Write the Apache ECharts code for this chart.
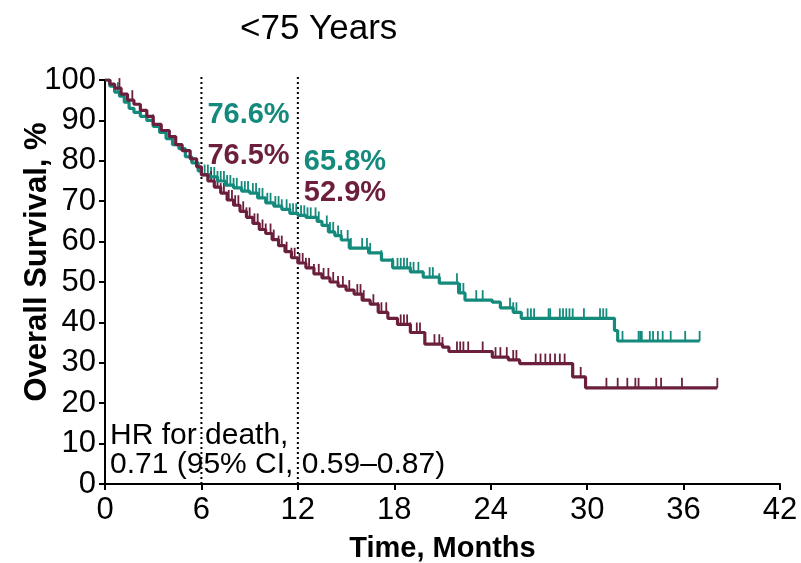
<!DOCTYPE html>
<html><head><meta charset="utf-8">
<script src="https://cdn.jsdelivr.net/npm/echarts@6/dist/echarts.min.js"></script>
<style>html,body{margin:0;padding:0;background:#fff}#c{width:801px;height:563px}</style>
</head><body><div id="c"></div>
<script>
// ---- data ----
const xTicks = [0, 6, 12, 18, 24, 30, 36, 42];
const yTicks = [0, 10, 20, 30, 40, 50, 60, 70, 80, 90, 100];

// Teal arm: event times (months) and survival after each step (%)
const tealT = [0,0.3,0.6,0.9,1.2,1.5,1.8,2.2,2.6,3.0,3.4,3.8,4.2,4.6,5.0,5.4,5.8,6.0,6.5,7.0,7.5,8.0,8.5,9.0,9.5,10.0,10.5,11.0,11.5,12.0,12.5,13.2,13.5,13.9,14.3,14.7,15.2,16.4,17.2,17.9,19.0,19.8,20.8,22.0,22.4,24.1,24.6,25.4,25.9,31.7,31.9,37.0];
const tealS = [100,98.5,97,96,94.5,93,92,91,90,88.5,87,85.5,84,83,81,79.5,77.5,76.6,76,75,74,73.3,72.5,72,70.8,69.6,68.8,68,67,66.5,66,65,64,62.4,61.5,60.4,58.4,57.2,55.4,53.5,52.5,51.2,49.7,47.3,45.5,45,43.6,42.5,41,38,35.4,35.4];
const tealCensor = [0.8,6.2,6.4,6.6,6.8,7.0,7.2,7.4,7.6,7.8,8.0,8.2,8.5,8.7,8.9,9.2,9.4,9.6,9.8,10.1,10.3,10.6,10.8,11.0,11.3,11.5,11.7,11.9,12.2,12.4,12.6,12.8,13.1,13.3,13.8,14.0,14.2,14.5,14.7,15.1,15.3,16.0,16.3,16.5,17.2,17.9,18.2,18.4,18.6,18.8,19.0,19.2,19.5,20.2,20.4,20.8,21.9,22.1,22.3,23.1,23.5,25.2,25.4,25.6,26.3,26.5,26.7,27.6,27.7,28.3,28.5,28.7,28.9,29.1,29.8,30.8,31.0,31.2,32.2,33.2,33.3,33.4,33.9,34.1,34.4,34.7,35.2,36.1,37.0];

// Maroon arm
const maroonT = [0,0.3,0.6,1.0,1.4,1.8,2.2,2.6,3.0,3.5,4.0,4.4,4.8,5.3,5.7,6.0,6.4,6.8,7.2,7.6,8.0,8.4,8.8,9.2,9.6,10.0,10.4,10.8,11.2,11.6,12.0,12.5,13.0,13.5,14.0,14.5,15.0,15.5,16.0,16.5,17.0,17.6,18.2,19.0,19.9,21.0,21.4,24.1,25.1,25.8,29.1,29.9,38.1];
const maroonS = [100,99,98,96.5,95,94,92.5,91,89,87.5,86,84,82.5,80.5,78.5,76.5,75,73.5,72,70.3,69,67.5,66,64.5,63,62,60.5,59,57.5,56,54.7,53.5,52,51,50,49,48,47,45.5,44.5,42.5,41,39.5,37.5,34.6,33.9,32.8,31.4,30.7,29.8,26.5,23.8,23.8];
const maroonCensor = [0.9,1.7,3.0,6.6,6.8,7.0,7.2,7.4,7.7,7.9,8.1,8.3,8.6,8.8,9.0,9.3,9.5,9.8,10.0,10.3,10.5,10.8,11.0,11.3,11.6,11.8,12.1,12.3,12.5,12.7,13.0,13.3,13.6,13.9,14.2,14.5,14.8,15.2,15.7,15.9,16.1,16.7,17.0,17.2,17.5,18.4,18.6,18.8,19.0,19.4,19.6,20.5,20.8,21.0,21.9,22.1,22.3,22.6,23.5,24.3,24.6,25.0,25.4,25.6,26.8,27.1,27.4,27.7,28.0,28.3,28.6,29.1,29.6,31.2,31.9,32.5,33.0,33.2,34.3,34.6,35.9,38.1];

// Landmark values
const landmarkT = [6, 12];
const tealLandmark = ['76.6%', '65.8%'];
const maroonLandmark = ['76.5%', '52.9%'];

const titleText = '<75 Years';
const hrLines = ['HR for death,', '0.71 (95% CI, 0.59\u20130.87)'];

// ---- build ----
const TEAL = '#138a7b', MAROON = '#6b1f3d';
function pairs(t, s){ return t.map((v,i)=>[v, s[i]]); }
function stepAt(t, s, x){ let y = s[0]; for (let i=0;i<t.length;i++){ if (t[i] <= x) y = s[i]; else break; } return y; }
function censorPts(ct, t, s){ return ct.map(x => [x, stepAt(t, s, x)]); }

const font = 'Liberation Sans, Arial, sans-serif';
const chart = echarts.init(document.getElementById('c'), null, {renderer:'canvas'});
const censorStyle = (c)=>({type:'scatter', symbol:'rect', symbolSize:[1.8,10], symbolOffset:[0,-5], itemStyle:{color:c, opacity:1}, silent:true, z:3});

chart.setOption({
  animation:false,
  backgroundColor:'#fff',
  grid:{left:105, right:21, top:80, bottom:79, containLabel:false, outerBoundsMode:'none'},
  xAxis:{type:'value', min:0, max:42, interval:6,
    name:'Time, Months', nameLocation:'middle', nameGap:50, nameMoveOverlap:false,
    nameTextStyle:{fontFamily:font, fontWeight:'bold', fontSize:29, color:'#000'},
    axisLine:{lineStyle:{color:'#000', width:2}},
    axisTick:{length:6, lineStyle:{color:'#000', width:2}},
    axisLabel:{fontFamily:font, fontSize:31, color:'#000', margin:11},
    splitLine:{show:false}},
  yAxis:{type:'value', min:0, max:100, interval:10,
    name:'Overall Survival, %', nameLocation:'middle', nameGap:52, nameRotate:90, nameMoveOverlap:false,
    nameTextStyle:{fontFamily:font, fontWeight:'bold', fontSize:31, color:'#000', padding:[0,0,0,40]},
    axisLine:{show:true, lineStyle:{color:'#000', width:2}},
    axisTick:{show:true, length:6, lineStyle:{color:'#000', width:2}},
    axisLabel:{fontFamily:font, fontSize:31, color:'#000', margin:9},
    splitLine:{show:false}},
  graphic:[
    {type:'text', left:240, top:12, style:{text:titleText, font:'35px '+font, fill:'#000'}},
    {type:'text', left:110, top:421, style:{text:hrLines[0], font:'30px '+font, fill:'#000'}},
    {type:'text', left:110, top:450, style:{text:hrLines[1], font:'30px '+font, fill:'#000'}}
  ],
  series:[
    {type:'line', data:[[landmarkT[0],0],[landmarkT[0],101.5]], symbol:'none', clip:false, silent:true,
     lineStyle:{color:'#000', width:2, type:[2,3]}, z:1},
    {type:'line', data:[[landmarkT[1],0],[landmarkT[1],101.5]], symbol:'none', clip:false, silent:true,
     lineStyle:{color:'#000', width:2, type:[2,3]}, z:1},
    {type:'line', step:'end', data:pairs(tealT, tealS), symbol:'none', lineStyle:{color:TEAL, width:3.2}, z:4},
    {type:'line', step:'end', data:pairs(maroonT, maroonS), symbol:'none', lineStyle:{color:MAROON, width:3.2}, z:5},
    Object.assign(censorStyle(TEAL), {data:censorPts(tealCensor, tealT, tealS)}),
    Object.assign(censorStyle(MAROON), {data:censorPts(maroonCensor, maroonT, maroonS)}),
    {type:'scatter', symbolSize:0, silent:true, z:6, itemStyle:{opacity:1},
     data:[
       {value:[landmarkT[0],91.3], label:{formatter:tealLandmark[0], color:TEAL}},
       {value:[landmarkT[0],81.3], label:{formatter:maroonLandmark[0], color:MAROON}},
       {value:[landmarkT[1],79.7], label:{formatter:tealLandmark[1], color:TEAL}},
       {value:[landmarkT[1],72], label:{formatter:maroonLandmark[1], color:MAROON}}
     ],
     label:{show:true, position:'right', distance:6, fontFamily:font, fontWeight:'bold', fontSize:29}}
  ]
});
</script></body></html>
